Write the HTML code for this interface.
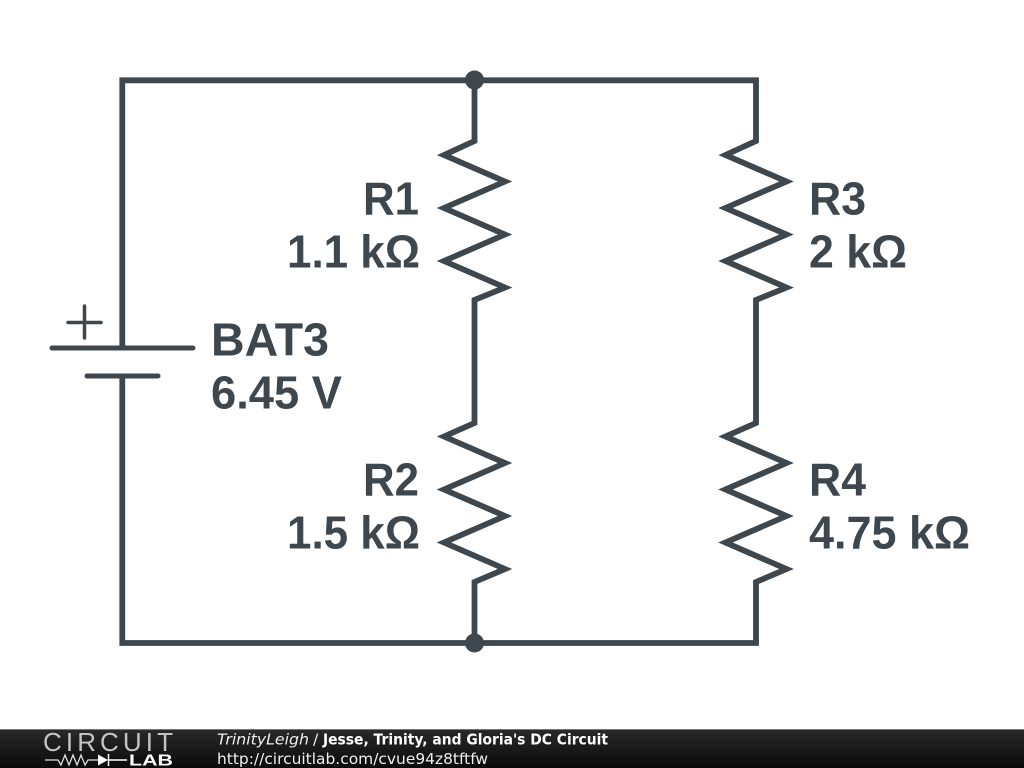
<!DOCTYPE html>
<html><head><meta charset="utf-8"><style>
html,body{margin:0;padding:0;background:#fff;width:1024px;height:768px;overflow:hidden}
svg{display:block}
</style></head><body>
<svg width="1024" height="768" viewBox="0 0 1024 768" xmlns="http://www.w3.org/2000/svg">
<defs>
<linearGradient id="g" x1="0" y1="0" x2="0" y2="1"><stop offset="0" stop-color="#2a2a2a"/><stop offset="0.5" stop-color="#1a1a1a"/><stop offset="1" stop-color="#0a0a0a"/></linearGradient>
</defs>
<g fill="none" stroke="#3d474d" stroke-width="5.800" stroke-linejoin="miter" stroke-miterlimit="10">
<polyline points="122.300,348 122.300,80.300 758.900,80.300"/>
<polyline points="122.300,376 122.300,643 758.900,643"/>
<polyline points="474.500,80 474.500,141 444,155 505,181.500 444,208 505,234.500 444,261 505,287.500 474.500,300 474.500,423 444,436.500 505,463 444,489.500 505,516 444,542.500 505,569 474.500,582 474.500,643"/>
<polyline points="756,80 756,141 725.500,155 786.500,181.500 725.500,208 786.500,234.500 725.500,261 786.500,287.500 756,300 756,423 725.500,436.500 786.500,463 725.500,489.500 786.500,516 725.500,542.500 786.500,569 756,582 756,643"/>
</g>
<g fill="none" stroke="#3d474d" stroke-width="5" stroke-linecap="round">
<path d="M52,348H193M87,376H158"/>
</g>
<path d="M68,322.500H101M84.500,306V338" fill="none" stroke="#3d474d" stroke-width="3.500" stroke-linecap="round"/>
<circle cx="474.500" cy="80" r="9.500" fill="#3d474d"/>
<circle cx="474.500" cy="643" r="9.500" fill="#3d474d"/>
<g font-family="'Liberation Sans',sans-serif" font-weight="700" font-size="46" fill="#3d474d">
<text x="363" y="214.500" textLength="56" lengthAdjust="spacingAndGlyphs">R1</text>
<text x="287" y="267.500" textLength="133" lengthAdjust="spacingAndGlyphs">1.1 kΩ</text>
<text x="363" y="495.500" textLength="56" lengthAdjust="spacingAndGlyphs">R2</text>
<text x="287" y="548.500" textLength="133" lengthAdjust="spacingAndGlyphs">1.5 kΩ</text>
<text x="809" y="214.500" textLength="57" lengthAdjust="spacingAndGlyphs">R3</text>
<text x="809" y="267.500" textLength="98" lengthAdjust="spacingAndGlyphs">2 kΩ</text>
<text x="809" y="495.500" textLength="57" lengthAdjust="spacingAndGlyphs">R4</text>
<text x="809" y="548.500" textLength="161" lengthAdjust="spacingAndGlyphs">4.75 kΩ</text>
<text x="211" y="355.500" textLength="118" lengthAdjust="spacingAndGlyphs">BAT3</text>
<text x="211" y="408.500" textLength="131" lengthAdjust="spacingAndGlyphs">6.45 V</text>
</g>
<rect x="0" y="729" width="1024" height="39" fill="url(#g)"/>
<rect x="0" y="729" width="1024" height="1" fill="#777"/>
<text x="43" y="751" font-family="'Liberation Sans',sans-serif" font-size="26" fill="#c4c4c4" textLength="130" lengthAdjust="spacing">CIRCUIT</text>
<polyline points="45,760 58,760 61,765 65,755 69,765 73,755 77,765 81,755 85,765 88,760 98,760" fill="none" stroke="#ddd" stroke-width="1.300"/>
<path d="M98,754.500V765.500L108,760Z" fill="#fff"/>
<path d="M108.500,754V766M108,760H127" stroke="#fff" stroke-width="1.500" fill="none"/>
<text x="129" y="765.500" font-family="'Liberation Sans',sans-serif" font-weight="700" font-size="15.500" fill="#fff" textLength="44" lengthAdjust="spacingAndGlyphs">LAB</text>
<g font-family="'DejaVu Sans',sans-serif" font-size="15.500">
<text x="217" y="744.500" font-style="italic" fill="#eee" textLength="92" lengthAdjust="spacingAndGlyphs">TrinityLeigh</text>
<text x="313" y="744.500" fill="#eee">/</text>
<text x="323" y="744.500" font-weight="700" fill="#fff" textLength="285" lengthAdjust="spacingAndGlyphs">Jesse, Trinity, and Gloria's DC Circuit</text>
<text x="217" y="764" fill="#eee" textLength="271" lengthAdjust="spacingAndGlyphs">http://circuitlab.com/cvue94z8tftfw</text>
</g>
</svg>
</body></html>
